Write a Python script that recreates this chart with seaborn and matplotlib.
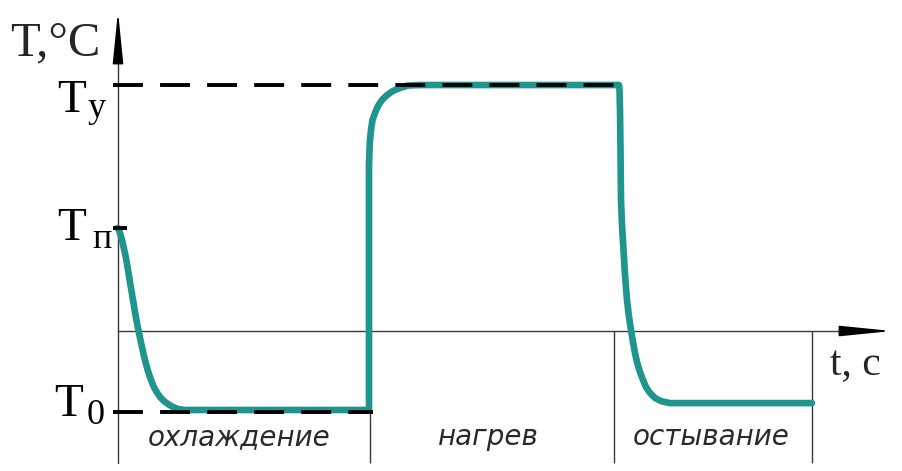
import numpy as np
import pandas as pd
import matplotlib
matplotlib.use("Agg")
import matplotlib.pyplot as plt
import seaborn as sns

# temperature curve (t in s, T in arbitrary degrees)
# stage 1: cooling from T_p down to T_0
cool_t = [0, 0.8, 1.6, 2.4, 3.2, 4.0, 4.8, 5.6, 6.4, 7.2, 8.0, 8.8, 9.6, 10.4,
          11.2, 12.0, 12.8, 14.0, 15.2, 16.8, 18.4, 20.0, 22.0, 24.0, 26.8]
cool_T = [41.9, 39.8, 37.0, 33.3, 29.7, 24.8, 19.9, 15.0, 10.2, 5.3, 1.2, -2.8,
          -6.5, -10.2, -13.4, -16.3, -18.7, -22.0, -24.4, -26.8, -28.5, -29.7,
          -30.9, -31.7, -32.1]
# stage 2: heating up to T_y
heat_t = [100.4, 100.4, 100.6, 100.8, 101.2, 101.8, 102.8, 104.0, 105.6, 107.6,
          110.0, 112.8, 116.0, 120.8, 200.4]
heat_T = [-32.1, 67.5, 73.6, 77.6, 81.7, 85.8, 88.6, 91.5, 93.9, 95.9,
          97.6, 98.8, 99.8, 100.0, 100.0]
# stage 3: cooling down after heating
rest_t = [200.6, 200.8, 201.0, 201.2, 201.6, 202.2, 202.8, 203.6, 204.4, 205.2,
          206.0, 206.8, 207.6, 208.8, 210.0, 211.2, 212.8, 214.8, 217.2, 220.8, 277.6]
rest_T = [98.0, 89.8, 73.6, 53.3, 43.1, 32.9, 22.8, 12.6, 5.7, 0.4,
          -4.5, -8.9, -12.6, -16.7, -19.9, -22.8, -25.2, -27.2, -28.5, -29.3, -29.3]

# levels
T_Y = 100.0
T_P = 41.9
T_0 = -33.0
T_Y_END = 200.8
T_0_END = 102.0

# stage boundaries and names
stage_edges = [100.8, 198.4, 277.6]
stage_centers = [48.4, 148.0, 237.2]
stage_names = ["охлаждение", "нагрев", "остывание"]

df = pd.DataFrame({"t": cool_t + heat_t + rest_t, "T": cool_T + heat_T + rest_T})

sns.set_theme(style="white")
plt.rcParams["font.family"] = ["Liberation Serif", "DejaVu Serif"]

fig = plt.figure(figsize=(9.02, 4.71), dpi=100)
ax = fig.add_axes([0, 0, 1, 1])
ax.set_xlim(-47.2, 313.6)
ax.set_ylim(-56.9, 134.55)

axis_col = "#3a3a3a"
bottom = -53.7

# axes lines with arrows
ax.plot([0, 300], [0, 0], color=axis_col, lw=1.0, zorder=1)
ax.plot([0, 0], [bottom, 120], color=axis_col, lw=1.0, zorder=1)
ax.annotate("", xy=(310.8, 0), xytext=(297, 0),
            arrowprops=dict(arrowstyle="-|>,head_length=1.6,head_width=0.16",
                            color="black", lw=1.2, mutation_scale=20))
ax.annotate("", xy=(0, 131.3), xytext=(0, 118),
            arrowprops=dict(arrowstyle="-|>,head_length=1.6,head_width=0.16",
                            color="black", lw=1.2, mutation_scale=20))

# stage separators
ax.vlines(stage_edges, bottom, 0, color=axis_col, lw=1.0, zorder=1)

# curve
sns.lineplot(data=df, x="t", y="T", sort=False, estimator=None, ax=ax,
             color="#20958e", lw=4.8, solid_capstyle="round",
             solid_joinstyle="round", zorder=3, legend=False)
ax.set_xlim(-47.2, 313.6)
ax.set_ylim(-56.9, 134.55)
ax.axis("off")

# dashed levels
dash = (0, (7.7, 4.4))
ax.plot([-2, T_Y_END], [T_Y, T_Y], color="black", lw=2.8, ls=dash, zorder=4)
ax.plot([-2, T_0_END], [T_0, T_0], color="black", lw=2.8, ls=dash, zorder=4)
ax.plot([-2, 3.6], [T_P, T_P], color="black", lw=2.8, zorder=4, solid_capstyle="butt")

# level labels
big = 34
small = 26
for val, sub, dyT, dxT, dxs, dys in [(T_Y, "у", -27, -32, -30, -32),
                                     (T_P, "п", -12, -32, -26, -20),
                                     (T_0, "0", -4, -35, -31, -12)]:
    ax.annotate("T", xy=(0, val), xytext=(dxT, dyT), textcoords="offset pixels",
                ha="right", va="baseline", fontsize=big, color="black")
    ax.annotate(sub, xy=(0, val), xytext=(dxs, dys), textcoords="offset pixels",
                ha="left", va="baseline", fontsize=small, color="black")

fig.text(10 / 902, 1 - 55 / 471, "T,°C", fontsize=35, ha="left", va="baseline")
fig.text(830 / 902, 1 - 375 / 471, "t, c", fontsize=30, ha="left", va="baseline")

# stage names
for xc, name in zip(stage_centers, stage_names):
    ax.annotate(name, xy=(xc, bottom), xytext=(0, 18), textcoords="offset pixels",
                ha="center", va="baseline", fontsize=20, style="italic",
                family=["DejaVu Sans"], color="#2a2a2a")

fig.savefig("out.png", dpi=100, facecolor="white")
